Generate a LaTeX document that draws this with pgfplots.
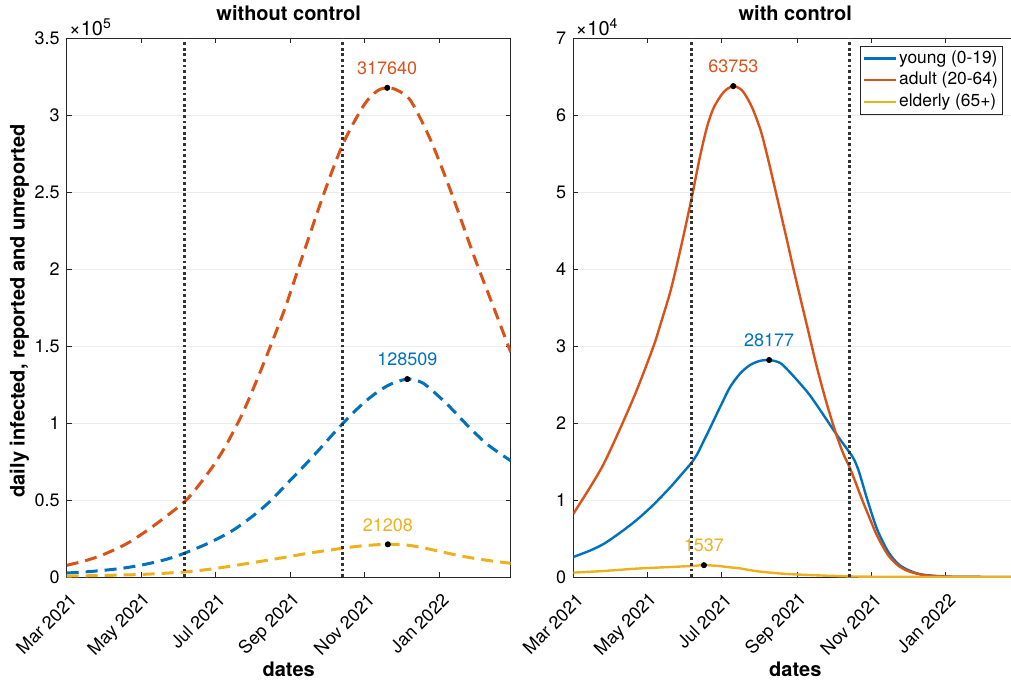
\documentclass[border=0pt]{standalone}
\usepackage{pgfplots}
\pgfplotsset{compat=1.18}
\usepackage{fontspec}
\setmainfont{TeX Gyre Heros}
\definecolor{cB}{rgb}{0,0.447,0.741}
\definecolor{cO}{rgb}{0.85,0.325,0.098}
\definecolor{cY}{rgb}{0.929,0.694,0.125}
\definecolor{axc}{rgb}{0.15,0.15,0.15}
\pgfplotsset{
 myaxis/.style={
  scale only axis, width=222pt, height=269.5pt, anchor=south west,
  clip mode=individual,
  xmin=0, xmax=365, ymin=0,
  xtick={0,61,122,184,245,306},
  xticklabels={Mar 2021,May 2021,Jul 2021,Sep 2021,Nov 2021,Jan 2022},
  xticklabel style={font=\fontsize{9}{10}\selectfont, xshift=3.4pt, yshift=-10pt, rotate=45, anchor=east, inner sep=0pt},
  yticklabel style={font=\fontsize{9}{10}\selectfont},
  scaled y ticks=false,
  tick align=inside, xtick pos=both, ytick pos=both,
  major tick length=2.5pt,
  tick style={axc, line width=0.4pt},
  axis line style={axc, line width=0.4pt},
  ymajorgrids, grid style={gray!15, line width=0.4pt},
  title style={font=\bfseries\fontsize{10}{12}\selectfont, at={(axis description cs:0.5,1)}, anchor=base, yshift=3pt},
  xlabel style={font=\bfseries\fontsize{10}{12}\selectfont, at={(axis description cs:0.5,-0.1855)}, anchor=base},
  ylabel style={font=\bfseries\fontsize{10}{12}\selectfont, at={(axis description cs:-0.095,0.4935)}, anchor=base},
  xlabel={dates},
 },
 vline/.style={black!80, line width=1.4pt, dash pattern=on 1.4pt off 1.4pt, forget plot},
 peak/.style={only marks, mark=*, mark size=1.3pt, black, forget plot, nodes near coords, point meta=explicit symbolic,
   nodes near coords style={color=#1, font=\fontsize{9}{10}\selectfont, anchor=south, yshift=3pt}},
 dsh/.style={line width=1.5pt, dash pattern=on 6pt off 3.5pt, smooth, #1},
 sol/.style={line width=1.2pt, smooth, #1},
}
\begin{document}
\begin{tikzpicture}
\useasboundingbox (0,0) rectangle (505.5pt,340pt);
\clip (0,0) rectangle (505.5pt,340pt);
% ---------------- left -----------------
\begin{axis}[myaxis, at={(33.35pt,51.5pt)}, ymax=350000,
  ytick={0,50000,100000,150000,200000,250000,300000,350000},
  yticklabels={0,0.5,1,1.5,2,2.5,3,3.5},
  title={without control},
  ylabel={daily infected, reported and unreported}]
\addplot[dsh=cB] coordinates {(0,2600) (20,3600) (44,5500) (63,8000) (82,11500) (97,15500) (118,22500) (136,30000) (152,39000) (167,49000) (181,60500) (195,72000) (209,84000) (222,95500) (236,107000) (247,115000) (258,121500) (268,125800) (280,128509) (290,127000) (297,123500) (313,112000) (330,98000) (346,86000) (365,75500)};
\addplot[dsh=cO] coordinates {(0,7600) (15,10500) (30,14500) (49,21500) (63,28500) (77,36500) (97,49000) (110,61000) (122,74000) (132,87000) (145,107000) (159,133000) (173,161000) (181,178000) (192,204000) (211,248000) (227,281000) (244,306000) (255,315500) (263.5,317640) (272,316000) (283,309000) (299,284000) (316,250000) (335,208000) (352,173000) (365,146000)};
\addplot[dsh=cY] coordinates {(0,600) (30,1000) (63,1700) (97,3300) (121,5400) (148,8700) (178,12600) (200,15600) (228,18800) (245,20400) (264,21208) (280,20700) (297,18300) (313,15500) (330,12800) (346,10800) (365,8900)};
\addplot[vline] coordinates {(97,0) (97,350000)};
\addplot[vline] coordinates {(227,0) (227,350000)};
\addplot[peak=cO] coordinates {(263.5,317640) [317640]};
\addplot[peak=cB] coordinates {(280,128509) [128509]};
\addplot[peak=cY] coordinates {(264,21208) [21208]};
\node[anchor=south west, font=\fontsize{10}{11}\selectfont, inner sep=1pt] at (rel axis cs:0,1) {×10\textsuperscript{5}};
\end{axis}
% ---------------- right -----------------
\begin{axis}[myaxis, at={(286.65pt,51.5pt)}, ymax=70000,
  ytick={0,10000,20000,30000,40000,50000,60000,70000},
  yticklabels={0,1,2,3,4,5,6,7},
  title={with control},
  legend image code/.code={\draw[#1] (0pt,0pt) -- (16pt,0pt);},
  legend style={at={(0.6457,0.9857)}, anchor=north west, draw=axc, line width=0.4pt, fill=white,
    font=\fontsize{8.7}{10}\selectfont, inner sep=1pt, nodes={inner sep=1.2pt}, row sep=0.6pt, column sep=0pt},
  legend cell align=left]
\addplot[sol=cB] coordinates {(0,2600) (14,3450) (25,4300) (38,5700) (52,7400) (66,9400) (80,11700) (88,13150) (97,14800) (102,16000) (107,17600) (112,19200) (118,21200) (122,22500) (129,24700) (137,26400) (145,27500) (153,28050) (161,28177) (170,27800) (178,26600) (186,25200) (194.5,23600) (205,21200) (216,18600) (227,16200) (231,15200) (235,13600) (241,10400) (249,6500) (255,4400) (260,3000) (267,1700) (274,1000) (282,500) (290,250) (306,60) (330,10) (365,0)};
\addlegendentry{young (0-19)}
\addplot[sol=cO] coordinates {(0,8200) (14,11700) (25,14700) (38,19100) (52,24200) (66,30000) (72,33000) (80,37200) (88,42500) (97,49000) (104,54500) (110,58500) (115,60800) (120,62200) (125,63200) (131.5,63753) (138,63300) (143,62200) (148,60600) (154,58000) (159,55000) (165,51000) (170,47600) (176,43500) (181,40000) (187,36000) (192,32700) (200,27400) (208,22700) (216,18600) (222,16000) (227,14300) (232,12300) (238,9800) (244,7500) (249,5600) (255,3800) (260,2600) (267,1500) (274,850) (282,450) (290,200) (306,50) (330,10) (365,0)};
\addlegendentry{adult (20-64)}
\addplot[sol=cY] coordinates {(0,570) (25,780) (52,1090) (80,1300) (97,1430) (107.4,1537) (118,1450) (129,1250) (137,1120) (151,750) (173,420) (195,250) (227,80) (260,20) (300,3) (365,0)};
\addlegendentry{elderly (65+)}
\addplot[vline] coordinates {(97,0) (97,70000)};
\addplot[vline] coordinates {(227,0) (227,70000)};
\addplot[peak=cO] coordinates {(131.5,63753) [63753]};
\addplot[peak=cB] coordinates {(161,28177) [28177]};
\addplot[peak=cY] coordinates {(107.4,1537) [1537]};
\node[anchor=south west, font=\fontsize{10}{11}\selectfont, inner sep=1pt] at (rel axis cs:0,1) {×10\textsuperscript{4}};
\end{axis}
\end{tikzpicture}
\end{document}
